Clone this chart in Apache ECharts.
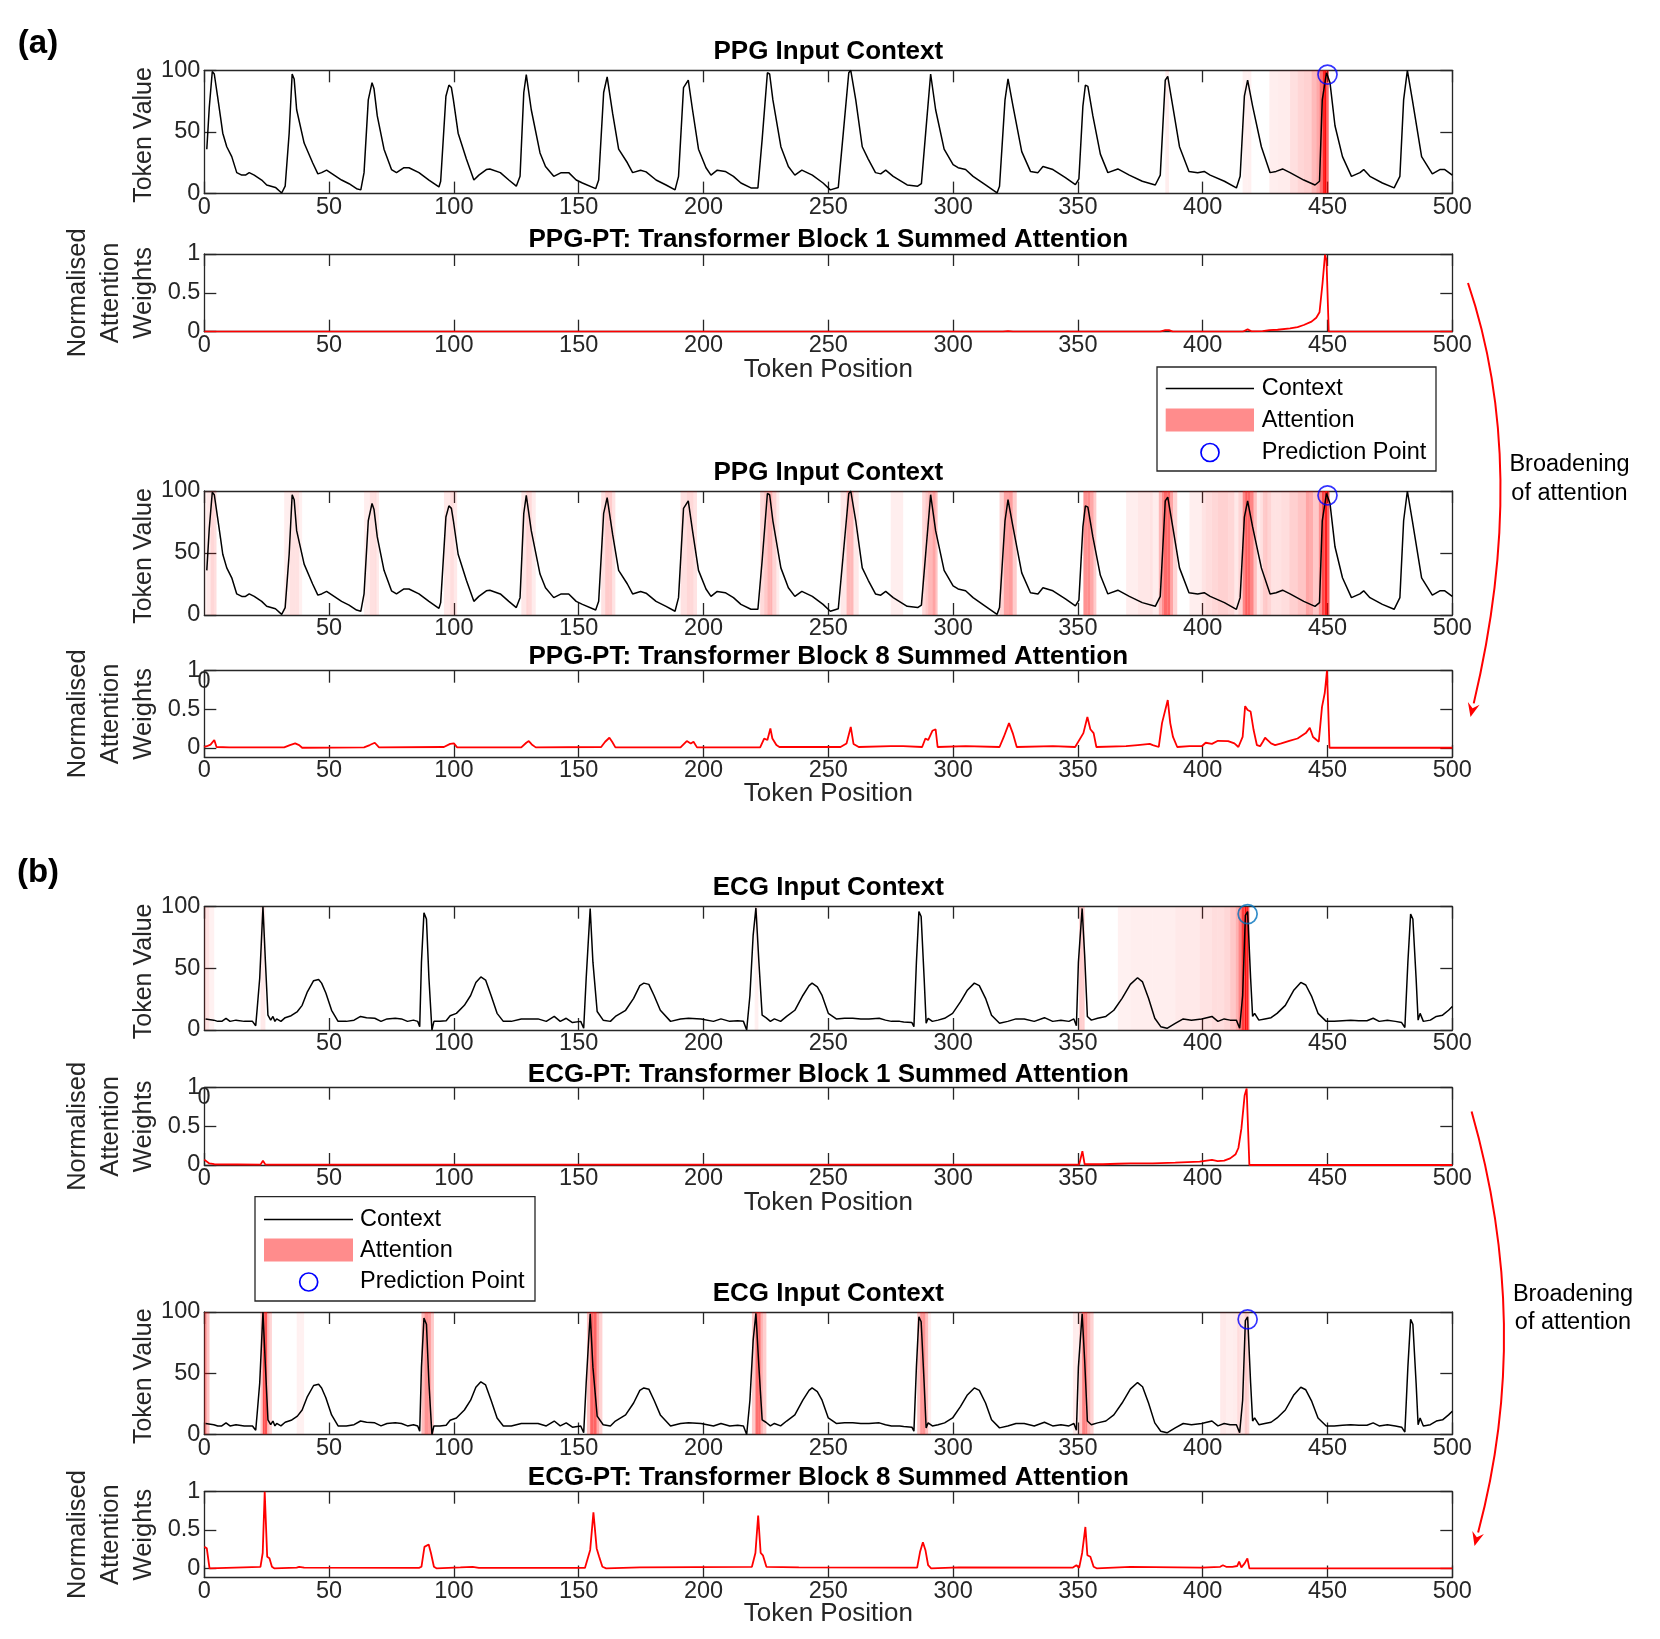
<!DOCTYPE html>
<html><head><meta charset="utf-8">
<script src="https://cdn.jsdelivr.net/npm/echarts@6/dist/echarts.min.js"></script>
<style>html,body{margin:0;padding:0;background:#fff;}#chart{width:1660px;height:1639px;}</style>
</head><body><div id="chart"></div>
<script>
// ---------------- DATA ----------------
const xTickValues = [0, 50, 100, 150, 200, 250, 300, 350, 400, 450, 500];
const ctxTickValues = [0, 50, 100];
const attTickValues = [0, 0.5, 1];

const titles = [
  'PPG Input Context', 'PPG-PT: Transformer Block 1 Summed Attention',
  'PPG Input Context', 'PPG-PT: Transformer Block 8 Summed Attention',
  'ECG Input Context', 'ECG-PT: Transformer Block 1 Summed Attention',
  'ECG Input Context', 'ECG-PT: Transformer Block 8 Summed Attention'
];
const panelLabels = ['(a)', '(b)'];
const legendLabels = ['Context', 'Attention', 'Prediction Point'];
const arrowLabel = ['Broadening', 'of attention'];

const ppgContext = [[1,36],[2,70],[3.2,99],[4,97],[5.3,79],[6.5,62],[7.4,49],[9,38],[11,30],[13,17],[15,15],[16.5,15],[18,17],[20,15],[23,11],[25,7],[28.5,5],[31,0.5],[32.4,6],[34,49],[35.2,97],[36,93],[37,68],[40,41],[43.4,25],[45.5,16],[47,17],[49,19],[52,15],[55,11],[58,8],[61,4],[62.7,3],[64,17],[65.7,76],[67.2,90],[68,85],[69.3,63],[72,36],[75,19.5],[77,17],[80,21],[82,21],[86,17],[90,11],[94,5.4],[94.7,10],[96.8,79],[98,88],[99,86],[99.8,76],[101.7,49],[105,28],[108,11],[110,15],[113,19.5],[114.4,20],[118.6,17],[122,11],[125,6],[126.5,14],[128,82],[129,96.5],[131,68],[134.5,33],[136.7,22],[140,14],[143,17],[146,17],[149,11],[151.5,8.6],[156.8,4],[158,11],[160,82],[161.4,94.6],[163.6,65],[166,36],[169.5,25],[171.6,17],[174.8,19],[177,17.6],[181,11],[185,7],[188.6,3],[190,14],[192,86],[193.9,92],[195.6,68],[198,36],[201,21],[203,15],[205.5,19],[208.7,18],[212,14],[215,8.6],[219,4.6],[221.8,4.6],[223.5,44],[225.6,98],[226.5,97],[227.8,76],[231,38],[234,22],[236.6,15],[239.4,19],[243.6,15],[247.9,8.6],[250.8,3],[254,5],[256,49],[258.2,98],[259,100],[261,76],[263.6,38],[266,28],[268.9,17],[271,16],[273,19],[276,14],[281.6,7],[285.8,6],[287.3,8],[289,49],[291,97],[293,68],[296.4,36],[300,23.5],[302,21],[305,19.5],[308,14],[313,7],[317.6,0.5],[318.6,6],[320.8,76],[322,93],[324,71],[327.5,34],[331,18],[334,17],[336,22],[340,19.5],[345,13],[349,7.3],[350.4,12],[352,71],[353,88],[354,87],[356,63],[359,32],[362,17],[366,20],[370.6,15],[375.8,10],[381,7],[383,15],[385,92],[386,95],[388,71],[390.7,38],[394.5,18],[398,17],[400.6,18],[403,15],[408.7,10],[413.5,4.6],[415,14],[416.7,79],[418,92],[420,71],[423.5,38],[427,17],[429.4,18],[432,20],[435,17],[440.5,11],[445,7],[446.8,10],[447.9,76],[449.6,98],[451,90],[453,55],[456,30],[459.6,14],[463,17],[464.5,19.5],[467,14],[472,8.6],[476.7,4.6],[479,14],[480.5,76],[482,100],[484,76],[487.7,30],[492,16],[495,19.5],[497,19.5],[500,15]];

const ecgContext = [[0.5,9],[1.3,9],[3.8,8],[5.4,7],[7,7],[8.7,9.5],[10.3,7],[12.7,8],[16,7],[19.3,7],[20.6,3.5],[21.2,17.6],[22.2,42],[23.5,100],[24.5,55],[25.5,12],[26.6,8],[27.5,11],[28.3,7],[29,9],[30.7,7],[32.4,10],[34.8,11.6],[37.3,15],[39.2,20],[41.3,31],[43.8,40],[45.8,41],[47,38],[48.7,30],[51,16],[53.6,7],[56.9,7],[60,8],[62.6,11],[65,10],[68.3,9.5],[70.8,7],[73.2,9],[76.5,9.5],[79,9],[81.4,7],[83.8,8],[85.5,7],[86.3,2.7],[87,55],[88,95],[89,90],[90,42],[91.2,0],[92,7],[94.4,7],[96.9,7.5],[98.5,11.6],[101,13.5],[104.2,20],[106.7,28],[108.8,38.6],[110.8,43],[112.7,40.5],[114.9,28],[117.3,13.5],[119.8,7],[123,7],[127,9],[133.7,9],[137,7],[140.2,11],[142.6,7],[145,9.5],[147.5,6],[150.8,7],[152,1.4],[153,42],[154.6,98.6],[155.7,55],[157.4,15],[159.8,8],[162.7,7],[164.7,11],[168.8,16],[172,25.7],[174.5,36],[176.1,38],[178.1,37],[180.2,28],[182.7,16],[186.8,7],[190.8,9],[194,9.5],[199,9],[204,7],[207,9],[210.5,7],[213.7,7.5],[216,7],[217.3,0],[218.6,28],[219.9,77],[221,99],[222.2,55],[223.5,12],[225,10],[226.8,7],[228.4,9],[230.9,7],[233.3,11],[236.6,16],[239.8,28],[242.3,36],[243.5,38],[245.6,35],[247.5,28],[250,13.5],[253.2,9],[256.5,9.5],[259.8,9.5],[263,9],[266.3,9],[270.4,9.5],[272.9,8],[275.3,7],[278.6,7],[280.2,6.5],[283.5,6],[284.3,2.7],[285.3,55],[286.3,96],[287.2,92],[288.4,42],[289.2,5.4],[290,9.5],[291.7,7],[294,8],[296.6,9.5],[299.8,13.5],[303,23],[305.6,32],[308.5,38],[310.5,36],[313,25.7],[315.4,12],[318.6,5.4],[321.9,7],[325.2,9],[328.5,9],[332.5,7],[336.6,10],[339.9,7],[343.2,8],[346.4,7],[348.4,9],[349.4,3.5],[350.2,55],[351.7,98.6],[352.7,61],[353.8,11],[355.4,8],[357.9,9.5],[361.2,11],[364.4,16],[367.7,25.7],[371,37],[373.9,42.4],[375.9,39],[378.3,25.7],[380.8,9.5],[383.2,2.7],[385.7,1.4],[389,5.4],[392.2,9],[395.5,8],[399.6,9],[403.7,11],[406.1,7],[408.6,9],[411,8],[413.5,8],[414.8,1.4],[416,28],[417.1,93],[418,96],[419.2,42],[420,11],[420.8,13.5],[422.5,8],[424.9,9],[427.4,10],[429.8,13.5],[433.1,20],[436.4,32],[439.3,38.6],[441.3,36.5],[443.7,27],[446.2,13.5],[449.5,7],[452.7,7],[456,7.5],[459.3,8],[462.5,7.5],[465.8,7.5],[468.3,9.5],[470.7,7],[474,8],[477.2,7],[479.7,6],[481,2],[482.2,55],[483.3,94],[484.2,90],[485.5,42],[486.3,8],[487.1,13.5],[488.4,7],[491.2,8],[493.6,11],[496.1,12],[498.5,16],[500,19]];

const ppgAttnBlock1 = [[0,0],[320,0],[322,0.008],[324,0],[383,0],[385,0.02],[386.5,0.02],[388,0],[416,0],[418,0.03],[419.5,0.005],[424,0.008],[426.7,0.02],[430,0.025],[435,0.043],[438,0.06],[440.5,0.086],[443.6,0.13],[445.5,0.18],[446.8,0.25],[448,0.62],[449,0.99],[449.6,0.92],[450.5,0],[500,0]];

const ppgAttnBlock8 = [[0,0.01],[1,0.02],[2.5,0.04],[4,0.1],[4.9,0.01],[10,0.005],[32,0.005],[34.3,0.035],[36.4,0.056],[38,0.035],[39.2,0],[64,0.005],[66.3,0.035],[68.3,0.065],[69,0.05],[70,0.005],[96,0.01],[98.5,0.05],[100,0.056],[101.3,0.005],[127,0.005],[129,0.065],[130,0.087],[131.2,0.043],[132.8,0.005],[159,0.01],[160.6,0.078],[162.3,0.13],[163.4,0.078],[164.7,0.005],[190.8,0.005],[193.3,0.087],[194.9,0.056],[196,0.078],[197.4,0.005],[222.7,0.005],[224.3,0.12],[225.6,0.1],[226.8,0.25],[227.6,0.12],[229.2,0.035],[230.4,0.01],[245,0.01],[254.9,0.01],[257.3,0.056],[259,0.27],[260.1,0.05],[262.2,0.01],[275,0.02],[280,0.02],[287.6,0.01],[288.9,0.12],[290,0.1],[291.7,0.22],[293,0.24],[293.8,0.01],[305,0.02],[318.6,0.01],[320.3,0.14],[322.4,0.32],[323.9,0.19],[325.5,0.01],[340,0.02],[348.9,0.01],[352.2,0.19],[353.8,0.4],[355,0.24],[356.3,0.19],[357.4,0.01],[369.3,0.02],[374,0.035],[378.8,0.05],[380,0.035],[382.4,0.01],[383.7,0.32],[384.5,0.32],[386,0.62],[387,0.32],[388.1,0.14],[389.8,0.01],[394.7,0.02],[399.6,0.02],[401.2,0.065],[403.7,0.05],[406.1,0.09],[410.2,0.087],[412.7,0.056],[414.3,0.01],[416,0.14],[417,0.54],[418,0.49],[419.2,0.47],[420.4,0.23],[421.7,0.035],[423,0.02],[424.1,0.078],[425,0.13],[426,0.1],[427.4,0.056],[429,0.035],[431.5,0.056],[434.7,0.09],[438,0.12],[441.3,0.19],[442.9,0.26],[444.2,0.14],[446.5,0.078],[447.8,0.53],[448.9,0.71],[449.8,1.0],[450.8,0],[500,0]];

const ecgAttnBlock1 = [[0,0.07],[0.5,0.065],[2,0.02],[4,0.01],[22.5,0.005],[23.5,0.056],[24.5,0.005],[154,0.005],[154.6,0.02],[155.5,0.005],[220.5,0.005],[221,0.03],[222,0.005],[285.5,0.005],[286,0.02],[287,0.005],[350.5,0.005],[351.8,0.18],[352.7,0.01],[360,0.01],[366,0.016],[371,0.02],[380,0.02],[389,0.03],[398.8,0.043],[403.7,0.065],[406,0.05],[408.6,0.056],[411,0.086],[413.2,0.14],[414.3,0.22],[415.5,0.47],[416.8,0.9],[417.6,0.99],[418.1,0.97],[418.7,0],[500,0]];

const ecgAttnBlock8 = [[0,0.28],[1,0.26],[2.1,0],[22.5,0.02],[23.4,0.2],[24.2,1.0],[25.2,0.15],[26.1,0.13],[27.1,0.02],[28,0],[37,0.01],[38,0.02],[40,0.01],[86,0.005],[87,0.02],[88.2,0.28],[89.9,0.31],[90.8,0.2],[92,0.02],[93,0],[102.6,0.013],[107.5,0.02],[110,0.005],[152.5,0.005],[153.3,0.02],[154.6,0.24],[155.9,0.73],[157.2,0.26],[158.2,0.15],[159.5,0.02],[161,0],[174.5,0.013],[219.4,0.02],[220.8,0.2],[221.9,0.69],[222.9,0.2],[223.8,0.17],[225.2,0.02],[226,0],[238.2,0.013],[285.6,0.01],[286.8,0.22],[287.9,0.34],[288.9,0.24],[290,0.04],[291.2,0],[302.3,0.013],[348,0.01],[349.4,0.04],[350.5,0.005],[351.7,0.2],[353,0.54],[353.8,0.17],[355,0.15],[356.3,0.02],[357.5,0],[371,0.02],[399.6,0.01],[407,0.02],[408.1,0.04],[409.4,0.02],[411.9,0.02],[413.8,0.03],[414.6,0.087],[415.5,0.013],[416.8,0.065],[417.9,0.13],[418.7,0],[500,0]];

const ppgPredictionPoint = [450, 96.5];
const ecgPredictionPoint = [418, 94];

// ---------------- LAYOUT / STYLE ----------------
const FONT = '"Liberation Sans", Arial, Helvetica, sans-serif';
const AX = '#262626';
const GL = 204.3, GW = 1248;
const TICK_FS = 23.5;
const panels = [
  {kind:'ctx', top:70.3, height:123.3, data:ppgContext, att:ppgAttnBlock1, pred:ppgPredictionPoint, predColor:'#0000FF', hideZero:false, titleY:52},
  {kind:'att', top:254, height:77.7, data:ppgAttnBlock1, ymin:0, titleY:240.3, xNameY:369.5},
  {kind:'ctx', top:491, height:124, data:ppgContext, att:ppgAttnBlock8, pred:ppgPredictionPoint, predColor:'#0000FF', hideZero:true, titleY:472.5},
  {kind:'att', top:670.7, height:86.3, data:ppgAttnBlock8, ymin:-0.12, titleY:656.5, xNameY:794},
  {kind:'ctx', top:906.7, height:123.3, data:ecgContext, att:ecgAttnBlock1, pred:ecgPredictionPoint, predColor:'#0072BD', hideZero:true, titleY:888},
  {kind:'att', top:1087.7, height:77.3, data:ecgAttnBlock1, ymin:0, titleY:1074.5, xNameY:1203},
  {kind:'ctx', top:1312, height:122.5, data:ecgContext, att:ecgAttnBlock8, pred:ecgPredictionPoint, predColor:'#0000FF', hideZero:false, titleY:1293.5},
  {kind:'att', top:1491.7, height:85.8, data:ecgAttnBlock8, ymin:-0.12, titleY:1477.5, xNameY:1614}
];

function shadeAlpha(w) { return w < 0.015 ? 0 : Math.min(1, Math.pow(w, 0.7)); }

const grids = [], xAxes = [], yAxes = [], series = [];
panels.forEach(function (p, gi) {
  grids.push({left: GL, width: GW, top: p.top, height: p.height});
  const lineSt = {show: true, onZero: false, lineStyle: {color: AX, width: 1.3}};
  const tickSt = {show: true, inside: true, length: 12, lineStyle: {color: AX, width: 1.3}};
  xAxes.push({type: 'value', gridIndex: gi, min: xTickValues[0], max: xTickValues[xTickValues.length - 1], interval: xTickValues[1] - xTickValues[0], position: 'bottom',
    axisLine: lineSt, axisTick: tickSt, splitLine: {show: false},
    axisLabel: {show: true, showMinLabel: !p.hideZero, margin: 2, color: AX, fontSize: TICK_FS, fontFamily: FONT}});
  xAxes.push({type: 'value', gridIndex: gi, min: xTickValues[0], max: xTickValues[xTickValues.length - 1], interval: xTickValues[1] - xTickValues[0], position: 'top',
    axisLine: lineSt, axisTick: tickSt, splitLine: {show: false}, axisLabel: {show: false}});
  let yBase;
  if (p.kind === 'ctx') {
    yBase = {type: 'value', gridIndex: gi, min: ctxTickValues[0], max: ctxTickValues[2], interval: ctxTickValues[1] - ctxTickValues[0]};
  } else {
    yBase = {type: 'value', gridIndex: gi, min: p.ymin, max: attTickValues[2]};
  }
  const yl = Object.assign({}, yBase, {position: 'left', axisLine: lineSt, splitLine: {show: false},
    axisTick: Object.assign({}, tickSt, p.kind === 'att' ? {customValues: attTickValues} : {}),
    axisLabel: Object.assign({show: true, margin: 4, color: AX, fontSize: TICK_FS, fontFamily: FONT}, p.kind === 'att' ? {customValues: attTickValues} : {})});
  const yr = Object.assign({}, yBase, {position: 'right', axisLine: lineSt, splitLine: {show: false},
    axisTick: Object.assign({}, tickSt, p.kind === 'att' ? {customValues: attTickValues} : {}),
    axisLabel: {show: false}});
  yAxes.push(yl, yr);

  if (p.kind === 'ctx') {
    const att = p.att;
    series.push({
      type: 'custom', xAxisIndex: 2 * gi, yAxisIndex: 2 * gi, clip: true, silent: true, z: 1,
      data: att,
      renderItem: function (params, api) {
        const i = params.dataIndex;
        if (i >= att.length - 1) return null;
        const t0 = att[i][0], w0 = att[i][1], t1 = att[i + 1][0], w1 = att[i + 1][1];
        const w = (t1 - t0) <= 3 ? (w0 + w1) / 2 : Math.min(w0, w1);
        const a = shadeAlpha(w);
        if (a <= 0) return null;
        const p0 = api.coord([t0, ctxTickValues[2]]);
        const p1 = api.coord([t1, ctxTickValues[0]]);
        return {type: 'rect', shape: {x: p0[0], y: p0[1], width: p1[0] - p0[0], height: p1[1] - p0[1]},
          style: {fill: 'rgba(255,0,0,' + a.toFixed(3) + ')'}};
      }
    });
    series.push({type: 'line', xAxisIndex: 2 * gi, yAxisIndex: 2 * gi, data: p.data, showSymbol: false, z: 3,
      lineStyle: {color: '#000', width: 1.5}, silent: true});
    series.push({type: 'scatter', xAxisIndex: 2 * gi, yAxisIndex: 2 * gi, data: [p.pred], symbol: 'circle', symbolSize: 19, clip: false, z: 5,
      itemStyle: {color: 'rgba(0,0,0,0)', borderColor: p.predColor, borderWidth: 1.7}, silent: true});
  } else {
    series.push({type: 'line', xAxisIndex: 2 * gi, yAxisIndex: 2 * gi, data: p.data, showSymbol: false, z: 3,
      lineStyle: {color: '#FF0000', width: 1.8}, silent: true});
  }
});

// ---------------- GRAPHIC (text & annotations) ----------------
function txt(x, y, text, size, o) {
  o = o || {};
  return {type: 'text', x: x, y: y, rotation: o.rot || 0, z: 100, silent: true,
    style: {text: text, font: (o.bold ? 'bold ' : '') + size + 'px ' + FONT, fill: o.color || '#000',
      align: o.align || 'center', verticalAlign: 'middle', textAlign: o.align || 'center', textVerticalAlign: 'middle',
      lineHeight: o.lh || Math.round(size * 1.2)}};
}
const graphics = [];
graphics.push(txt(38, 44, panelLabels[0], 33, {bold: true, color: '#000'}));
graphics.push(txt(38, 873, panelLabels[1], 33, {bold: true, color: '#000'}));
panels.forEach(function (p, gi) {
  graphics.push(txt(GL + GW / 2, p.titleY, titles[gi], 26, {bold: true, color: '#000'}));
  const cy = p.top + p.height / 2;
  if (p.kind === 'ctx') {
    graphics.push(txt(144, cy + 3, 'Token Value', 25, {rot: Math.PI / 2, color: AX}));
  } else {
    graphics.push(txt(111, cy, 'Normalised\nAttention\nWeights', 25.5, {rot: Math.PI / 2, color: AX, lh: 33}));
    graphics.push(txt(GL + GW / 2, p.xNameY, 'Token Position', 26, {color: AX}));
  }
});
// stray '0' labels in the original figure
graphics.push(txt(204, 681.5, '0', TICK_FS, {color: AX}));
graphics.push(txt(204, 1097.5, '0', TICK_FS, {color: AX}));

function legend(x, y, w, h, rows, lineX0, lineX1, textX, patchTop, patchBot, circX) {
  const g = [];
  g.push({type: 'rect', z: 90, shape: {x: x, y: y, width: w, height: h}, style: {fill: '#fff', stroke: AX, lineWidth: 1.3}});
  g.push({type: 'line', z: 91, shape: {x1: lineX0, y1: rows[0], x2: lineX1, y2: rows[0]}, style: {stroke: '#000', lineWidth: 1.5}});
  g.push({type: 'rect', z: 91, shape: {x: lineX0, y: patchTop, width: lineX1 - lineX0, height: patchBot - patchTop}, style: {fill: '#FF8C8C'}});
  g.push({type: 'circle', z: 91, shape: {cx: circX, cy: rows[2], r: 9}, style: {fill: null, stroke: '#0000FF', lineWidth: 1.7}});
  legendLabels.forEach(function (s, i) { g.push(txt(textX, rows[i], s, 23.5, {align: 'left', color: '#000'})); });
  return g;
}
graphics.push.apply(graphics, legend(1157, 367, 279, 104, [388.5, 420.5, 452.5], 1165.7, 1254, 1261.7, 408.5, 431.5, 1210));
graphics.push.apply(graphics, legend(255, 1196.7, 280, 104.3, [1219.5, 1250.5, 1282], 264, 353, 360, 1238.5, 1261.5, 308.7));

function arrow(x0, y0, cx, cy, tx, ty) {
  const dx = tx - cx, dy = ty - cy, L = Math.sqrt(dx * dx + dy * dy);
  const ux = dx / L, uy = dy / L, nx = -uy, ny = ux;
  const bx = tx - 14 * ux, by = ty - 14 * uy;
  return [
    {type: 'bezierCurve', z: 95, shape: {x1: x0, y1: y0, x2: bx, y2: by, cpx1: cx, cpy1: cy}, style: {stroke: '#FF0000', lineWidth: 2, fill: null}},
    {type: 'polygon', z: 95, shape: {points: [[tx, ty], [bx + 6 * nx, by + 6 * ny], [tx - 9 * ux, ty - 9 * uy], [bx - 6 * nx, by - 6 * ny]]}, style: {fill: '#FF0000'}}
  ];
}
graphics.push.apply(graphics, arrow(1468, 283, 1530, 466, 1470.5, 717));
graphics.push.apply(graphics, arrow(1471.6, 1111.6, 1533, 1327, 1474.5, 1546));
graphics.push(txt(1569.5, 465, arrowLabel[0], 23.5, {color: '#000'}));
graphics.push(txt(1569.5, 494, arrowLabel[1], 23.5, {color: '#000'}));
graphics.push(txt(1573, 1294.5, arrowLabel[0], 23.5, {color: '#000'}));
graphics.push(txt(1573, 1323, arrowLabel[1], 23.5, {color: '#000'}));

const chart = echarts.init(document.getElementById('chart'), null, {renderer: 'canvas'});
chart.setOption({
  animation: false,
  backgroundColor: '#fff',
  grid: grids, xAxis: xAxes, yAxis: yAxes, series: series,
  graphic: {elements: graphics}
});
</script>
</body></html>
